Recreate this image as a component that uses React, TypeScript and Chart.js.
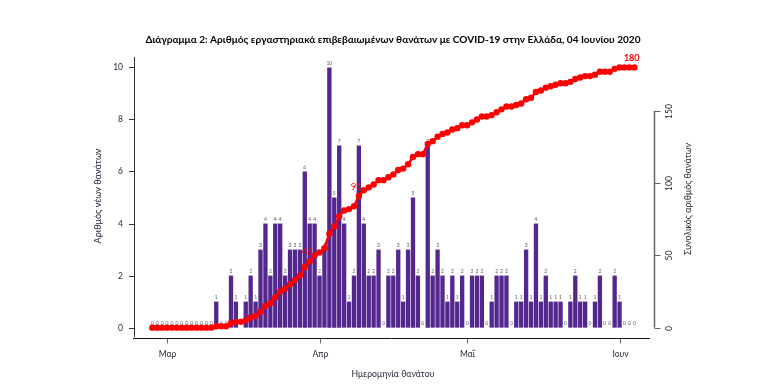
import React, { useEffect, useRef } from "react";
import { Chart, registerables } from "chart.js";

Chart.register(...registerables);

// ---- DATA ----
const dates: string[] = [
  "27/02", "28/02", "29/02",
  "01/03", "02/03", "03/03", "04/03", "05/03", "06/03", "07/03", "08/03", "09/03", "10/03",
  "11/03", "12/03", "13/03", "14/03", "15/03", "16/03", "17/03", "18/03", "19/03", "20/03",
  "21/03", "22/03", "23/03", "24/03", "25/03", "26/03", "27/03", "28/03", "29/03", "30/03", "31/03",
  "01/04", "02/04", "03/04", "04/04", "05/04", "06/04", "07/04", "08/04", "09/04", "10/04",
  "11/04", "12/04", "13/04", "14/04", "15/04", "16/04", "17/04", "18/04", "19/04", "20/04",
  "21/04", "22/04", "23/04", "24/04", "25/04", "26/04", "27/04", "28/04", "29/04", "30/04",
  "01/05", "02/05", "03/05", "04/05", "05/05", "06/05", "07/05", "08/05", "09/05", "10/05",
  "11/05", "12/05", "13/05", "14/05", "15/05", "16/05", "17/05", "18/05", "19/05", "20/05",
  "21/05", "22/05", "23/05", "24/05", "25/05", "26/05", "27/05", "28/05", "29/05", "30/05", "31/05",
  "01/06", "02/06", "03/06", "04/06",
];

const dailyDeaths: (number | null)[] = [
  0, 0, 0, 0, 0, 0, 0, 0, 0, 0, 0, 0, 0,
  1, 0, 0, 2, 1, null, 1, 2, 1, 3, 4, 2, 4, 4, 2, 3, 3, 3, 6, 4, 4, 2,
  3, 10, 5, 7, 4, 1, 2, 7, 4, 2, 2, 3, 0, 2, 2, 3, 1, 3, 5, 2, 0,
  7, 2, 3, 2, 1, 2, 1, 2, 0, 2, 2, 2, 0, 1, 2, 2, 2, 0, 1, 1, 3, 1,
  4, 1, 2, 1, 1, 1, 0, 1, 2, 1, 1, 0, 1, 2, 0, 0, 2, 1, 0, 0, 0,
];

const cumulativeDeaths: number[] = [
  0, 0, 0, 0, 0, 0, 0, 0, 0, 0, 0, 0, 0,
  1, 1, 1, 3, 4, 4, 5, 7, 8, 11, 15, 17, 21, 25, 27, 30, 33, 36, 42, 46, 50, 52,
  55, 65, 70, 77, 81, 82, 84, 91, 95, 97, 99, 102, 102, 104, 106, 109, 110, 113, 118, 120, 120,
  127, 129, 132, 134, 135, 137, 138, 140, 140, 142, 144, 146, 146, 147, 149, 151, 153, 153, 154, 155, 158, 159,
  163, 164, 166, 167, 168, 169, 169, 170, 172, 173, 174, 174, 175, 177, 177, 177, 179, 180, 180, 180, 180,
];

const monthTickDays: number[] = [3, 34, 64, 95];
const monthTickLabels: string[] = ["Μαρ", "Απρ", "Μαΐ", "Ιουν"];
const leftTicks: number[] = [0, 2, 4, 6, 8, 10];
const rightTicks: number[] = [0, 50, 100, 150];
const lineLabelDays: number[] = [32, 42, 98];

const titleText =
  "Διάγραμμα 2: Αριθμός εργαστηριακά επιβεβαιωμένων θανάτων με COVID-19 στην Ελλάδα, 04 Ιουνίου 2020";
const xTitle = "Ημερομηνία θανάτου";
const yTitle = "Αριθμός νέων θανάτων";
const y1Title = "Συνολικός αριθμός θανάτων";

// ---- STYLE ----
const FONT = "Lato, 'Open Sans', sans-serif";
const BAR_COLOR = "#54278F";
const LINE_COLOR = "#FF0000";
const TEXT_COLOR = "#1f2433";

function fitSize(ctx: CanvasRenderingContext2D, text: string, weight: string, target: number) {
  ctx.font = `${weight} 10px ${FONT}`;
  const w = ctx.measureText(text).width;
  return (10 * target) / w;
}

const decorPlugin = {
  id: "decor",
  afterDatasetDraw(chart: any, args: any) {
    if (args.index !== 0) return;
    const ctx: CanvasRenderingContext2D = chart.ctx;
    const meta = chart.getDatasetMeta(0);
    ctx.save();
    ctx.font = `5px ${FONT}`;
    ctx.fillStyle = "#555a66";
    ctx.textAlign = "center";
    ctx.textBaseline = "bottom";
    meta.data.forEach((el: any, i: number) => {
      const v = dailyDeaths[i];
      if (v == null || !isFinite(el.y)) return;
      ctx.fillText(String(v), el.x, el.y - 2);
    });
    // cumulative labels, drawn under the line
    const lmeta = chart.getDatasetMeta(1);
    ctx.fillStyle = LINE_COLOR;
    ctx.textBaseline = "middle";
    lineLabelDays.forEach((d, k) => {
      const el = lmeta.data[d];
      if (!el) return;
      const last = k === lineLabelDays.length - 1;
      ctx.font = `${last ? "bold " : ""}${last ? 9 : 9.5}px ${FONT}`;
      ctx.fillText(String(cumulativeDeaths[d]), el.x - 2.6, el.y - 9);
    });
    ctx.restore();
  },
  afterDraw(chart: any) {
    const ctx: CanvasRenderingContext2D = chart.ctx;
    const ca = chart.chartArea;
    const xs = chart.scales.x;
    const ys = chart.scales.y;
    const y1s = chart.scales.y1;
    ctx.save();

    // left axis
    ctx.strokeStyle = "#333";
    ctx.lineWidth = 1;
    ctx.beginPath();
    ctx.moveTo(Math.round(ca.left) + 0.5, ca.top);
    ctx.lineTo(Math.round(ca.left) + 0.5, ca.bottom);
    ctx.stroke();
    ctx.font = `8.5px ${FONT}`;
    ctx.fillStyle = TEXT_COLOR;
    ctx.textAlign = "right";
    ctx.textBaseline = "middle";
    leftTicks.forEach((v) => {
      const y = Math.round(ys.getPixelForValue(v)) + 0.5;
      ctx.beginPath();
      ctx.moveTo(ca.left - 5, y);
      ctx.lineTo(ca.left, y);
      ctx.stroke();
      ctx.fillText(String(v), ca.left - 11, y);
    });

    // bottom axis
    const by = Math.round(ca.bottom) + 1.5;
    ctx.strokeStyle = "#111";
    ctx.beginPath();
    ctx.moveTo(ca.left - 1, by);
    ctx.lineTo(ca.right - 4, by);
    ctx.stroke();
    ctx.strokeStyle = "#666";
    ctx.textAlign = "center";
    monthTickDays.forEach((d, k) => {
      const x = Math.round(xs.getPixelForValue(d)) + 0.5;
      ctx.beginPath();
      ctx.moveTo(x, by);
      ctx.lineTo(x, by + 5);
      ctx.stroke();
      ctx.fillText(monthTickLabels[k], x, by + 16);
    });

    // right axis
    const rx = Math.round(ca.right) + 0.5;
    ctx.strokeStyle = "#666";
    ctx.lineWidth = 1.5;
    ctx.beginPath();
    ctx.moveTo(rx, y1s.getPixelForValue(rightTicks[0]));
    ctx.lineTo(rx, y1s.getPixelForValue(rightTicks[rightTicks.length - 1]));
    ctx.stroke();
    ctx.lineWidth = 1;
    rightTicks.forEach((v) => {
      const y = Math.round(y1s.getPixelForValue(v)) + 0.5;
      ctx.beginPath();
      ctx.moveTo(rx, y);
      ctx.lineTo(rx + 6, y);
      ctx.stroke();
      ctx.save();
      ctx.translate(rx + 15, y);
      ctx.rotate(-Math.PI / 2);
      ctx.textAlign = "center";
      ctx.textBaseline = "middle";
      ctx.fillText(String(v), 0, 0);
      ctx.restore();
    });

    // titles
    ctx.fillStyle = "#000";
    ctx.textAlign = "center";
    ctx.textBaseline = "middle";
    const ts = fitSize(ctx, titleText, "bold", 496);
    ctx.font = `bold ${ts}px ${FONT}`;
    ctx.fillText(titleText, 393, 40);

    ctx.fillStyle = TEXT_COLOR;
    const xts = fitSize(ctx, xTitle, "normal", 83);
    ctx.font = `${xts}px ${FONT}`;
    ctx.fillText(xTitle, 393, 374);

    const yts = fitSize(ctx, yTitle, "normal", 95);
    ctx.font = `${yts}px ${FONT}`;
    ctx.save();
    ctx.translate(98, 196);
    ctx.rotate(-Math.PI / 2);
    ctx.fillText(yTitle, 0, 0);
    ctx.restore();

    const y1ts = fitSize(ctx, y1Title, "normal", 112);
    ctx.font = `${y1ts}px ${FONT}`;
    ctx.save();
    ctx.translate(688, 199);
    ctx.rotate(-Math.PI / 2);
    ctx.fillText(y1Title, 0, 0);
    ctx.restore();

    ctx.restore();
  },
};

export default function App() {
  const canvasRef = useRef<HTMLCanvasElement | null>(null);

  useEffect(() => {
    if (!canvasRef.current) return;
    const chart = new Chart(canvasRef.current, {
      type: "bar",
      data: {
        labels: dates,
        datasets: [
          {
            type: "bar",
            label: "Νέοι θάνατοι",
            data: dailyDeaths.map((v, i) => ({ x: i, y: v })) as any,
            backgroundColor: BAR_COLOR,
            borderWidth: 0,
            categoryPercentage: 1,
            barPercentage: 0.88,
            yAxisID: "y",
            order: 2,
          },
          {
            type: "line",
            label: "Συνολικοί θάνατοι",
            data: cumulativeDeaths.map((v, i) => ({ x: i, y: v })) as any,
            borderColor: LINE_COLOR,
            backgroundColor: LINE_COLOR,
            borderWidth: 2.5,
            pointRadius: 3.2,
            pointBorderWidth: 0,
            pointBackgroundColor: LINE_COLOR,
            tension: 0,
            yAxisID: "y1",
            order: 1,
          } as any,
        ],
      },
      options: {
        animation: false,
        responsive: false,
        devicePixelRatio: 1,
        layout: { padding: { left: 134, right: 109, top: 57, bottom: 52 } },
        plugins: {
          legend: { display: false },
          title: { display: false },
          tooltip: { enabled: false },
        },
        scales: {
          x: { type: "linear", min: -3.72, max: 102.0, display: false, offset: false },
          y: { type: "linear", min: -0.36, max: 10.4, display: false },
          y1: { type: "linear", min: -6.48, max: 187.2, display: false, position: "right" },
        },
      },
      plugins: [decorPlugin],
    });
    return () => chart.destroy();
  }, []);

  return (
    <div style={{ position: "fixed", left: 0, top: 0, width: 763, height: 389, background: "#fff" }}>
      <canvas ref={canvasRef} width={763} height={389} style={{ width: 763, height: 389 }} />
    </div>
  );
}
